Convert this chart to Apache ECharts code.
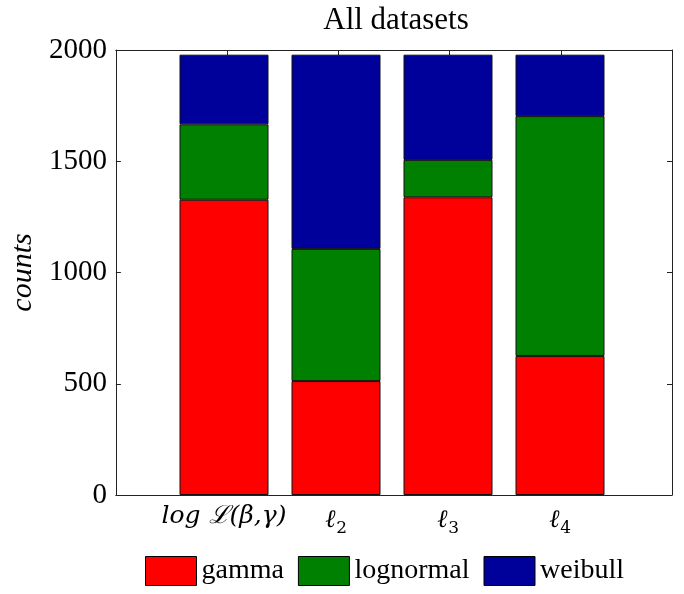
<!DOCTYPE html>
<html><head><meta charset="utf-8">
<script src="https://cdn.jsdelivr.net/npm/echarts@6/dist/echarts.min.js"></script>
<style>html,body{margin:0;padding:0;background:#fff}#c{width:684px;height:594px}</style>
</head><body><div id="c"></div>
<script>
const categories = ['log ℒ(β,γ)', 'ℓ2', 'ℓ3', 'ℓ4'];
const gamma = [1327, 512, 1338, 625];
const lognormal = [339, 594, 168, 1078];
const weibull = [313, 873, 473, 276];
const seriesNames = ['gamma', 'lognormal', 'weibull'];
const yTicks = [0, 500, 1000, 1500, 2000];

const serif = 'Liberation Serif, Times New Roman, serif';
const axisColor = '#222';
const colors = ['#ff0000', '#008000', '#00009a'];

function xLabel(c) {
  const m = c.match(/^ℓ(\d)$/);
  if (m) return '{it|ℓ}{sub|' + m[1] + '}';
  return '{it|' + c + '}';
}

const frameLine = {show: true, onZero: false, lineStyle: {color: axisColor, width: 1}};
const tickIn = {show: true, inside: true, length: 5, lineStyle: {color: axisColor}};

const chart = echarts.init(document.getElementById('c'), null, {renderer: 'canvas'});
chart.setOption({
  animation: false,
  backgroundColor: '#fff',
  title: {
    text: 'All datasets', left: 391, top: 0, textAlign: 'center',
    textStyle: {fontFamily: serif, fontSize: 31, fontWeight: 'normal', color: '#000'}
  },
  grid: [
    {left: 112, right: 12, top: 50, bottom: 99, containLabel: false},
    {left: 168, right: 68, top: 50, bottom: 99, containLabel: false}
  ],
  legend: {
    data: seriesNames, top: 556, left: 145, padding: 0,
    itemWidth: 51, itemHeight: 29, itemGap: 14,
    icon: 'rect',
    itemStyle: {borderColor: '#000', borderWidth: 1},
    textStyle: {fontFamily: serif, fontSize: 28, color: '#000'}
  },
  xAxis: [{
    gridIndex: 0, type: 'value', min: 0, max: 5, interval: 1, position: 'bottom',
    axisLine: frameLine, axisTick: {show: false}, splitLine: {show: false}, axisLabel: {show: false}
  }, {
    gridIndex: 0, type: 'value', min: 0, max: 5, interval: 1, position: 'top',
    axisLine: frameLine, axisTick: tickIn, splitLine: {show: false}, axisLabel: {show: false}
  }, {
    gridIndex: 1, type: 'category', data: categories, position: 'bottom',
    axisLine: {show: false}, axisTick: {show: false}, splitLine: {show: false},
    axisLabel: {
      margin: 9, formatter: xLabel,
      rich: {
        it: {fontFamily: 'DejaVu Serif, serif', fontStyle: 'italic', fontSize: 25, color: '#000'},
        sub: {fontFamily: 'DejaVu Serif, serif', fontSize: 17, color: '#000', padding: [16, 0, 0, 1]}
      }
    }
  }],
  yAxis: [{
    gridIndex: 0, type: 'value', min: yTicks[0], max: yTicks[yTicks.length - 1], interval: 500,
    name: 'counts', nameLocation: 'middle', nameGap: 72, nameRotate: 90,
    nameTextStyle: {fontFamily: serif, fontStyle: 'italic', fontSize: 30, color: '#000'},
    axisLine: frameLine, axisTick: tickIn, splitLine: {show: false},
    axisLabel: {fontFamily: serif, fontSize: 29, color: '#000', margin: 9, formatter: v => String(v)}
  }, {
    gridIndex: 0, type: 'value', min: yTicks[0], max: yTicks[yTicks.length - 1], interval: 500, position: 'right',
    axisLine: frameLine, axisTick: tickIn, splitLine: {show: false}, axisLabel: {show: false}
  }, {
    gridIndex: 1, type: 'value', min: yTicks[0], max: yTicks[yTicks.length - 1], interval: 500,
    axisLine: {show: false}, axisTick: {show: false}, splitLine: {show: false}, axisLabel: {show: false}
  }],
  series: [gamma, lognormal, weibull].map((arr, k) => ({
    name: seriesNames[k], type: 'bar', stack: 'all',
    xAxisIndex: 2, yAxisIndex: 2,
    barWidth: 89,
    itemStyle: {color: colors[k], borderColor: '#111', borderWidth: 1},
    data: arr
  }))
});
</script></body></html>
